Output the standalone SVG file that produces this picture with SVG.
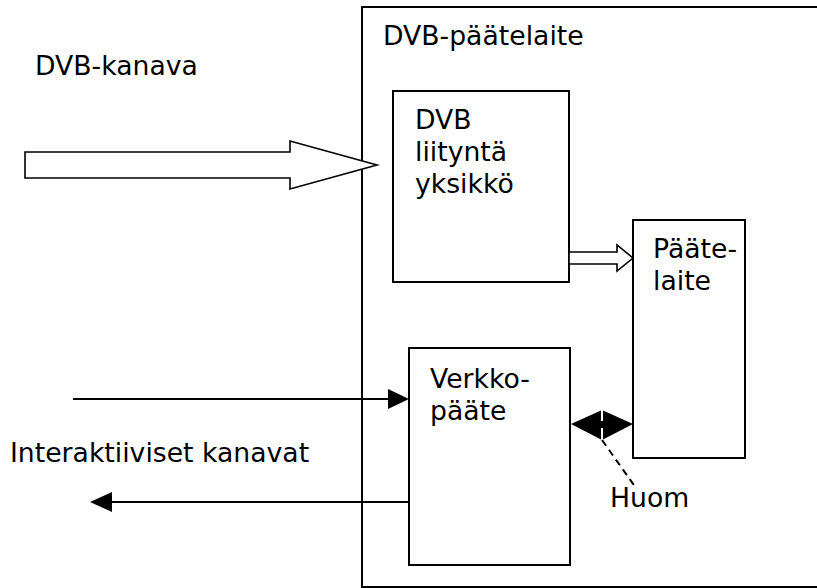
<svg xmlns="http://www.w3.org/2000/svg" width="817" height="588" viewBox="0 0 817 588">
<style>
text{font-family:"DejaVu Sans","Verdana",sans-serif;font-size:26.67px;fill:#000}
.box{fill:#fff;stroke:#000;stroke-width:2}
.hollow{fill:#fff;stroke:#000;stroke-width:1.6;stroke-linejoin:miter}
.ln{stroke:#000;stroke-width:2;fill:none}
</style>
<rect width="817" height="588" fill="#fff"/>
<g id="dvb-paatelaite">
<path class="ln" d="M817,7 H362 V587 H817"/>
<text x="383" y="45">DVB-päätelaite</text>
</g>
<g id="dvb-liityntayksikko">
<rect class="box" x="393" y="91" width="176" height="191"/>
<text x="415" y="129">DVB</text>
<text x="415" y="161">liityntä</text>
<text x="415" y="193">yksikkö</text>
</g>
<g id="paatelaite">
<rect class="box" x="633" y="220" width="112" height="238"/>
<text x="653" y="258">Pääte-</text>
<text x="653" y="290">laite</text>
</g>
<g id="verkkopaate">
<rect class="box" x="409" y="348" width="161" height="217"/>
<text x="430" y="388">Verkko-</text>
<text x="430" y="420">pääte</text>
</g>
<g id="labels">
<text x="35" y="75">DVB-kanava</text>
<text x="10" y="462">Interaktiiviset kanavat</text>
<text x="610" y="507">Huom</text>
</g>
<g id="connectors">
<polygon class="hollow" points="25,152 290,152 290,141 377,165 290,189 290,178 25,178"/>
<polygon class="hollow" points="569,252 617,252 617,245 633,258 617,271 617,264 569,264"/>
<line class="ln" x1="73" y1="399" x2="390" y2="399"/>
<polygon points="388,389 409,399 388,409" fill="#000"/>
<line class="ln" x1="409" y1="502" x2="110" y2="502"/>
<polygon points="90,502 112,492 112,512" fill="#000"/>
<polygon points="571,424 602,410 602,440" fill="#000"/>
<polygon points="633,424 602,410 602,440" fill="#000"/>
<line x1="602" y1="409" x2="602" y2="441" stroke="#fff" stroke-width="2"/>
<line x1="602" y1="421" x2="602" y2="428" stroke="#000" stroke-width="2"/>
<line x1="602" y1="440" x2="636" y2="488" stroke="#000" stroke-width="2" stroke-dasharray="7,5"/>
</g>
</svg>
